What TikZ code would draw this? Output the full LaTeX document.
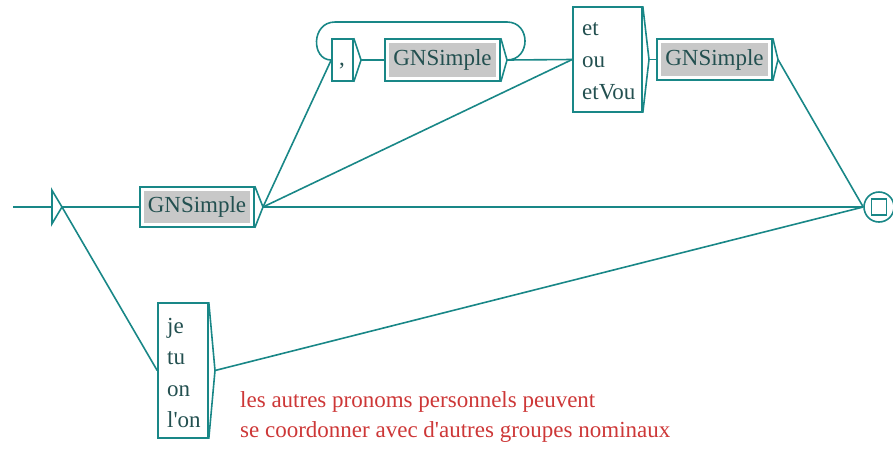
\documentclass[tikz,border=0pt]{standalone}
\usepackage{fontspec}
\setmainfont{Liberation Serif}
\definecolor{edge}{RGB}{25,135,135}
\definecolor{boxtext}{RGB}{35,80,80}
\definecolor{note}{RGB}{205,55,55}
\definecolor{callfill}{RGB}{200,200,200}
\tikzset{
  wire/.style={draw=edge, line width=1.6pt},
  box/.style={draw=edge, line width=1.6pt, rectangle, inner sep=0pt},
  callbox/.style={box, text=boxtext, font=\fontsize{23}{28}\selectfont,
    path picture={\fill[callfill]
      ([shift={(4pt,-4pt)}]path picture bounding box.north west) rectangle
      ([shift={(-4pt,4pt)}]path picture bounding box.south east);}},
  lbl/.style={anchor=base west, inner sep=0pt, text=boxtext, font=\fontsize{23}{28}\selectfont},
  notelbl/.style={lbl, text=note},
}
\begin{document}
\begin{tikzpicture}[x=1pt, y=-1pt]
\useasboundingbox (0,0) rectangle (893,448);

% initial state
\coordinate (entry) at (13,207);
\node[inner sep=0pt, minimum width=0pt, minimum height=33pt] (init) at (52,207) {};
\coordinate (initt) at (62,207);

% boxes
\node[callbox, minimum width=114pt, minimum height=40pt] (g1) at (197,207) {GNSimple};
\coordinate (g1t) at (263,207);

\node[box, minimum width=21pt, minimum height=42pt] (comma) at (342.5,60) {};
\node[lbl] (commatxt) at (339,65) {,};
\coordinate (commat) at (361,60);

\node[callbox, minimum width=115pt, minimum height=42pt] (g2) at (442.5,60) {GNSimple};
\coordinate (g2t) at (507,60);

\node[box, minimum width=69pt, minimum height=105pt] (conj) at (607.5,59.5) {};
\node[lbl] (conj1) at (582,35) {et};
\node[lbl] (conj2) at (582,67) {ou};
\node[lbl] (conj3) at (582,99) {etVou};
\coordinate (conjt) at (649,59.5);

\node[callbox, minimum width=115pt, minimum height=41pt] (g3) at (714.5,59.5) {GNSimple};
\coordinate (g3t) at (778,59.5);

\node[box, minimum width=50pt, minimum height=135pt] (pro) at (183,370.5) {};
\node[lbl] (pro1) at (167,333) {je};
\node[lbl] (pro2) at (167,364.5) {tu};
\node[lbl] (pro3) at (167,396) {on};
\node[lbl] (pro4) at (167,427.5) {l\textquotesingle on};
\coordinate (prot) at (215,370.5);

% final state
\node[circle, draw=edge, line width=1.6pt, minimum size=30pt, inner sep=0pt] (final) at (879,207) {};
\node[draw=edge, line width=1.6pt, minimum width=15pt, minimum height=16pt, inner sep=0pt] (finalsq) at (final.center) {};

% comment
\node[notelbl] (note1) at (240,407) {les autres pronoms personnels peuvent};
\node[notelbl] (note2) at (240,437) {se coordonner avec d\textquotesingle autres groupes nominaux};

% box output arrows
\draw[wire] (init.north) -- (initt) -- (init.south) -- cycle;
\draw[wire] (g1.north east) -- (g1t) -- (g1.south east);
\draw[wire] (comma.north east) -- (commat) -- (comma.south east);
\draw[wire] (g2.north east) -- (g2t) -- (g2.south east);
\draw[wire] (conj.north east) -- (conjt) -- (conj.south east);
\draw[wire] (g3.north east) -- (g3t) -- (g3.south east);
\draw[wire] (pro.north east) -- (prot) -- (pro.south east);

% transitions
\draw[wire] (entry) -- (init.center);
\draw[wire] (initt) -- (g1.west);
\draw[wire] (initt) -- (pro.west);
\draw[wire] (g1t) -- (comma.west);
\draw[wire] (g1t) -- (conj.west);
\draw[wire] (g1t) -- (final.west);
\draw[wire] (commat) -- (g2.west);
\draw[wire] (g2t) -- (conj.west);
\draw[wire] (conjt) -- (g3.west);
\draw[wire] (g3t) -- (final.west);
\draw[wire] (prot) -- (final.west);
% loop back from the second noun phrase to the comma
\draw[wire] (g2t) .. controls (531,60) and (531,22) .. (507,22)
  -- (335,22) .. controls (311,22) and (311,60) .. (comma.west);
\end{tikzpicture}
\end{document}
